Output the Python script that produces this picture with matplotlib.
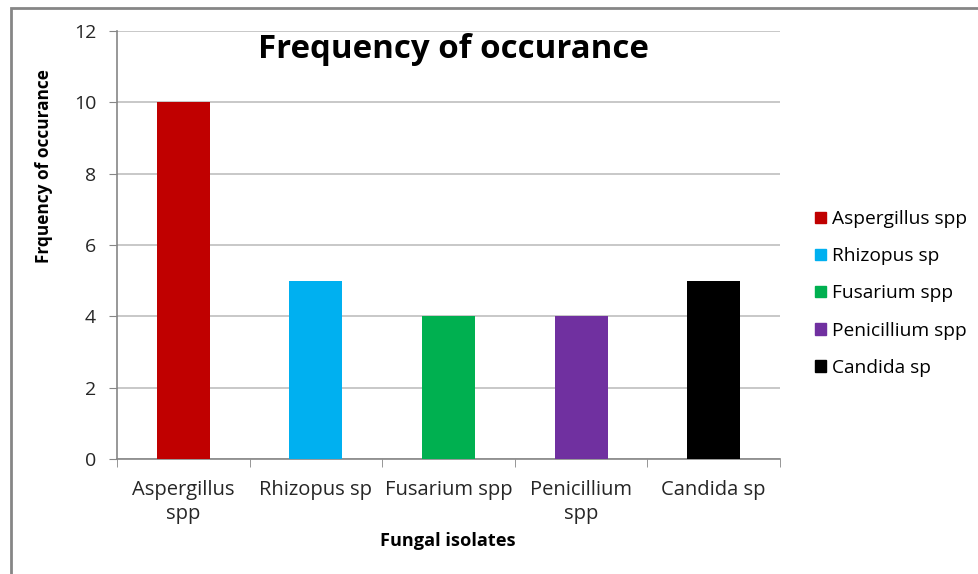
import matplotlib
matplotlib.use("Agg")
import matplotlib.pyplot as plt
from matplotlib.patches import Rectangle, Patch

# chart data
isolates = ["Aspergillus spp", "Rhizopus sp", "Fusarium spp", "Penicillium spp", "Candida sp"]
tick_labels = ["Aspergillus\nspp", "Rhizopus sp", "Fusarium spp", "Penicillium\nspp", "Candida sp"]
frequency = [10, 5, 4, 4, 5]
colors = ["#C00000", "#00B0F0", "#00B050", "#7030A0", "#000000"]

plt.rcParams['font.family'] = ['Open Sans', 'DejaVu Sans']

fig = plt.figure(figsize=(9.79, 5.74), dpi=100)
ax = fig.add_axes([117 / 979, 1 - 459 / 574, (780 - 117) / 979, (459 - 31) / 574])

# outer frame, only left and top visible like the cropped screenshot
fig.patches.append(Rectangle((11 / 979, -0.1), 1.2, 1.1 - 8 / 574,
                             transform=fig.transFigure, fill=False,
                             edgecolor="#868686", linewidth=2))

x = list(range(len(isolates)))
ax.bar(x, frequency, width=0.4, color=colors, zorder=3)

ax.set_xlim(-0.5, len(isolates) - 0.5)
ax.set_ylim(0, 12)
ax.set_yticks(range(0, 13, 2))
ax.yaxis.grid(True, color="#BFBFBF", linewidth=1.2, zorder=0)

ax.set_xticks(x)
ax.set_xticklabels(tick_labels, fontsize=14.5, color="#262626", linespacing=1.3)
ax.set_xticks([i - 0.5 for i in range(len(isolates) + 1)], minor=True)
ax.tick_params(axis="x", which="major", length=0, pad=15)
ax.tick_params(axis="x", which="minor", length=6, color="#868686", direction="out")
ax.tick_params(axis="y", length=6, color="#868686", labelsize=14,
               labelcolor="#262626", pad=9)

for side in ["top", "right"]:
    ax.spines[side].set_visible(False)
for side in ["left", "bottom"]:
    ax.spines[side].set_color("#868686")
    ax.spines[side].set_linewidth(1.2)

fig.text(453 / 979, 1 - 50 / 574, "Frequency of occurance", fontsize=23.8,
         fontweight="bold", ha="center", va="center")
fig.text(44 / 979, 1 - 166 / 574, "Frquency of occurance", fontsize=12.4,
         fontweight="bold", rotation=90, ha="center", va="center")
fig.text(448 / 979, 1 - 541 / 574, "Fungal isolates", fontsize=13.1,
         fontweight="bold", ha="center", va="center")

handles = [Patch(facecolor=c, edgecolor=c) for c in colors]
fig.legend(handles, isolates, loc="center left", bbox_to_anchor=(815 / 979, 1 - 293.5 / 574),
           frameon=False, fontsize=13.8, handlelength=0.55, handleheight=0.55,
           handletextpad=0.35, labelspacing=1.0, borderaxespad=0, borderpad=0)

fig.savefig("out.png", dpi=100)
